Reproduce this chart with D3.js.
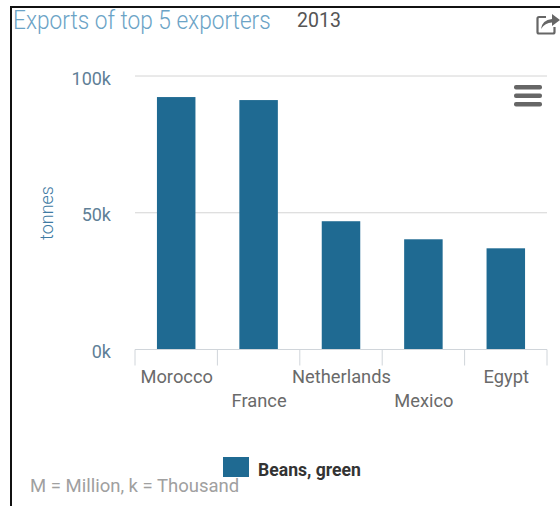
<!DOCTYPE html>
<html>
<head>
<meta charset="utf-8">
<script src="https://cdnjs.cloudflare.com/ajax/libs/d3/7.8.5/d3.min.js"></script>
<style>
html,body{margin:0;padding:0;background:#fff;overflow:hidden}
svg{display:block}
text{font-family:Roboto,sans-serif}
</style>
</head>
<body>
<svg id="chart" width="560" height="506"></svg>
<script>
// Green bean exports for the five largest exporters, in tonnes
const categories = ["Morocco", "France", "Netherlands", "Mexico", "Egypt"];
const tonnes = [92300, 91200, 46900, 40300, 37000];
const yTicks = [0, 50000, 100000];
const seriesName = "Beans, green";
const titleText = "Exports of top 5 exporters";
const yearText = "2013";
const noteText = "M = Million, k = Thousand";

const BAR_BLUE = "#1f6a92";
const svg = d3.select("#chart");

const x = d3.scaleBand().domain(categories).range([135, 547]);
const y = d3.scaleLinear().domain([0, 100000]).range([349.5, 76]);

// Panel border: top and left edges only
svg.append("path")
  .attr("d", d3.line()([[11, 506], [11, 7], [560, 7]]))
  .attr("fill", "none").attr("stroke", "#111").attr("stroke-width", 2);

// Header: the title is set tall and narrowed horizontally
const title = svg.append("text")
  .attr("font-size", 26).attr("font-weight", 300).attr("fill", "#6ba3c6")
  .text(titleText);
const titleScale = 258 / title.node().getComputedTextLength();
title.attr("transform", `translate(13,29) scale(${titleScale},1)`);
svg.append("text").attr("x", 297).attr("y", 27)
  .attr("font-size", 19.5).attr("fill", "#555").text(yearText);

// Gridlines and value labels
const yAxis = d3.axisLeft(y).tickValues(yTicks).tickSize(0).tickPadding(24)
  .tickFormat(d => (d / 1000) + "k");
const yG = svg.append("g").attr("transform", "translate(135,0)").call(yAxis);
yG.select(".domain").remove();
yG.selectAll("text").attr("font-size", 18).attr("fill", "#5f7f97").attr("dy", "0.45em");
yG.selectAll("line.grid").data(yTicks.filter(d => d > 0)).enter().append("line")
  .attr("class", "grid")
  .attr("x1", 0).attr("x2", 412)
  .attr("y1", d => y(d)).attr("y2", d => y(d))
  .attr("stroke", "#d4d4d4").attr("stroke-width", 1);

svg.append("text")
  .attr("transform", "translate(53,213) rotate(-90)")
  .attr("text-anchor", "middle")
  .attr("font-size", 18).attr("font-weight", 300).attr("fill", "#3f7ba3")
  .text("tonnes");

// Bars
const barWidth = 38.5;
svg.append("g").selectAll("rect").data(categories).enter().append("rect")
  .attr("x", d => x(d) + (x.bandwidth() - barWidth) / 2)
  .attr("width", barWidth)
  .attr("y", (d, i) => y(tonnes[i]))
  .attr("height", (d, i) => y(0) - y(tonnes[i]))
  .attr("fill", BAR_BLUE);

// Category axis with ticks on band edges
const baseline = svg.append("g").attr("stroke", "#d0d5da").attr("fill", "none");
baseline.append("line")
  .attr("x1", x.range()[0]).attr("x2", x.range()[1])
  .attr("y1", y(0)).attr("y2", y(0));
baseline.selectAll("line.tick")
  .data(categories.map(c => x(c)).concat(x.range()[1])).enter().append("line")
  .attr("class", "tick")
  .attr("x1", d => d).attr("x2", d => d)
  .attr("y1", y(0)).attr("y2", y(0) + 16);

// Labels stagger onto two rows so the long names do not collide
svg.append("g").selectAll("text").data(categories).enter().append("text")
  .attr("x", d => x(d) + x.bandwidth() / 2 + 0.5)
  .attr("y", (d, i) => i % 2 ? 407 : 383)
  .attr("text-anchor", "middle")
  .attr("font-size", 18.3).attr("fill", "#6a6a6a")
  .text(d => d);

// Legend
svg.append("rect").attr("x", 223).attr("y", 457).attr("width", 26).attr("height", 20).attr("fill", BAR_BLUE);
svg.append("text").attr("x", 258).attr("y", 476)
  .attr("font-size", 17.6).attr("font-weight", 700).attr("fill", "#333").text(seriesName);

// Unit note
svg.append("text").attr("x", 30).attr("y", 492)
  .attr("font-size", 18.5).attr("fill", "#a0a0a0").text(noteText);

// Share icon
const share = svg.append("g");
share.append("path")
  .attr("d", "M546 17 H539 Q537.5 17 537.5 18.5 V32 Q537.5 33.5 539 33.5 H553 Q554.5 33.5 554.5 32 V27")
  .attr("fill", "none").attr("stroke", "#666").attr("stroke-width", 2.2);
share.append("path")
  .attr("d", "M541 29 Q542 20 552 19 V14 L560 20 L552 26 V22.5 Q545 22.5 541 29 Z")
  .attr("fill", "#666");

// Menu icon
svg.append("g").selectAll("rect").data([0, 1, 2]).enter().append("rect")
  .attr("x", 514).attr("y", d => 85 + d * 8.5)
  .attr("width", 28).attr("height", 4.5).attr("rx", 2).attr("fill", "#666");
</script>
</body>
</html>
